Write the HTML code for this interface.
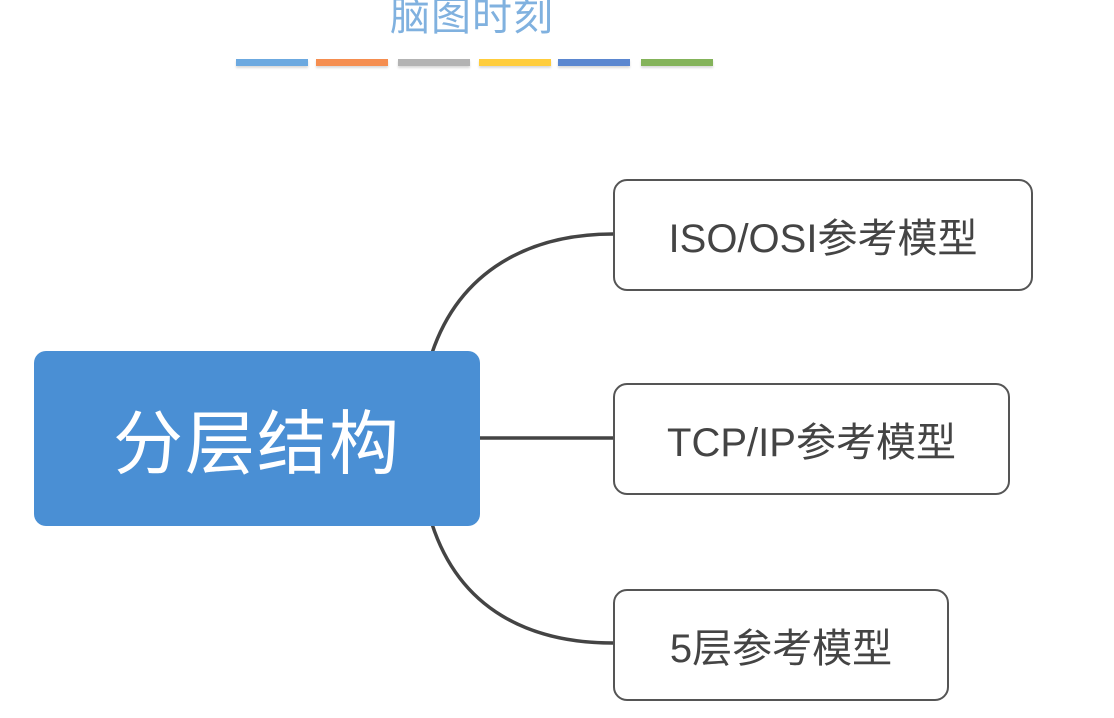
<!DOCTYPE html>
<html><head><meta charset="utf-8"><style>
body{margin:0;width:1114px;height:718px;background:#fff;position:relative;overflow:hidden;font-family:"Liberation Sans","Noto Sans CJK SC",sans-serif}
.t{position:absolute;left:390px;top:-16px;font-size:40px;color:#80b1df;letter-spacing:1px;white-space:nowrap}
.bar{position:absolute;top:59px;height:7px;width:72px;box-shadow:0 2px 2px rgba(0,0,0,.15)}
.c{position:absolute;left:34px;top:351px;width:446px;height:175px;background:#4a8fd4;border-radius:12px;color:#fff;font-size:70px;display:flex;align-items:center;justify-content:center;letter-spacing:2px}
.b{position:absolute;left:613px;height:108px;border:2px solid #555;border-radius:14px;box-sizing:border-box;display:flex;align-items:center;justify-content:center;font-size:40px;color:#444;white-space:nowrap}
</style></head><body>
<div class="t">脑图时刻</div>
<div class="bar" style="left:236px;background:#6ca9e0"></div>
<div class="bar" style="left:316px;background:#f58e50"></div>
<div class="bar" style="left:398px;background:#b3b3b3"></div>
<div class="bar" style="left:479px;background:#ffcd3c"></div>
<div class="bar" style="left:558px;background:#5b87d0"></div>
<div class="bar" style="left:641px;background:#84b35a"></div>
<svg width="1114" height="718" style="position:absolute;left:0;top:0">
<path d="M432 353 C460 270 530 234 613 234" fill="none" stroke="#444" stroke-width="3.5"/>
<path d="M480 438 L613 438" fill="none" stroke="#444" stroke-width="3.5"/>
<path d="M432 524 C460 610 530 643 613 643" fill="none" stroke="#444" stroke-width="3.5"/>
</svg>
<div class="c">分层结构</div>
<div class="b" style="top:179px;width:420px;height:112px">ISO/OSI参考模型</div>
<div class="b" style="top:383px;width:397px;height:112px">TCP/IP参考模型</div>
<div class="b" style="top:589px;width:336px;height:112px">5层参考模型</div>
</body></html>
